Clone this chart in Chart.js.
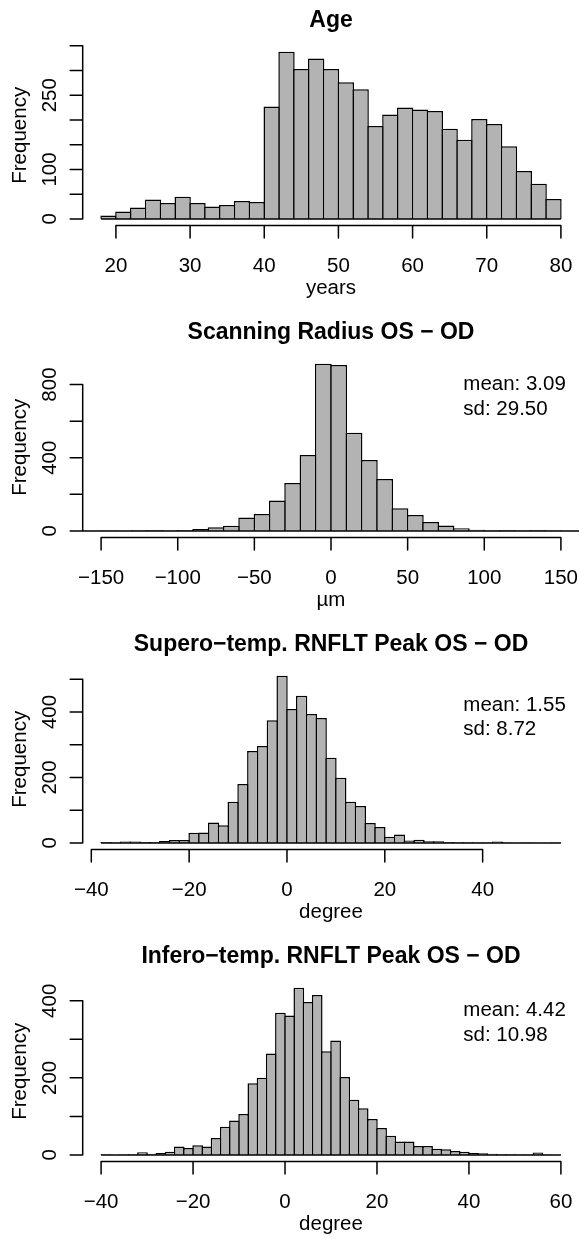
<!DOCTYPE html>
<html lang="en">
  <head>
    <meta charset="UTF-8" />
    <title>OS - OD histograms</title>
    <style>
      html, body { margin: 0; padding: 0; background: #fff; }
      body { width: 579px; height: 1239px; overflow: hidden; position: relative; }
      canvas { position: absolute; left: 0; }
    </style>
  </head>
  <body>
    <canvas id="age" width="600" height="312" style="top:0px"></canvas>
    <canvas id="radius" width="600" height="312" style="top:312px"></canvas>
    <canvas id="supero" width="600" height="312" style="top:624px"></canvas>
    <canvas id="infero" width="600" height="312" style="top:936px"></canvas>

    <script src="https://cdn.jsdelivr.net/npm/chart.js@4"></script>
    <script>
      // ---- data (counts per bin) ----
      // Age, 2-year bins from 18 to 80
      const ageStart = 18, ageBin = 2;
      const ageCounts = [7, 15, 23, 39, 32, 45, 32, 25, 28, 36, 34, 227, 338, 303, 324, 303,
        276, 262, 188, 211, 225, 221, 218, 182, 160, 202, 192, 147, 97, 71, 40];
      const ageXTicks = [20, 30, 40, 50, 60, 70, 80];
      const ageYTicks = [0, 50, 100, 150, 200, 250, 300, 350];
      const ageYLabels = [0, 100, 250];

      // Scanning radius OS - OD, 10 um bins from -170 to 170
      const radStart = -170, radBin = 10;
      const radCounts = [1, 1, 2, 1, 4, 3, 2, 5, 11, 20, 28, 73, 92, 166, 262, 415, 914,
        907, 536, 387, 284, 124, 87, 49, 29, 15, 7, 4, 3, 2, 3, 2, 1, 1];
      const radXTicks = [-150, -100, -50, 0, 50, 100, 150];
      const radYTicks = [0, 200, 400, 600, 800];
      const radYLabels = [0, 400, 800];
      const radStats = ["mean: 3.09", "sd: 29.50"];

      // Supero-temporal RNFLT peak OS - OD, 2 degree bins from -38 to 56
      const supStart = -38, supBin = 2;
      const supCounts = [3, 1, 4, 4, 3, 3, 6, 9, 9, 31, 32, 62, 54, 126, 180, 281, 296, 375,
        511, 409, 450, 394, 382, 260, 199, 126, 113, 61, 49, 19, 26, 7, 10, 5, 5, 3, 2, 2, 1,
        1, 4, 1, 0, 1, 0, 0, 1];
      const supXTicks = [-40, -20, 0, 20, 40];
      const supYTicks = [0, 100, 200, 300, 400, 500];
      const supYLabels = [0, 200, 400];
      const supStats = ["mean: 1.55", "sd: 8.72"];

      // Infero-temporal RNFLT peak OS - OD, 2 degree bins from -40 to 60
      const infStart = -40, infBin = 2;
      const infCounts = [2, 0, 1, 2, 7, 3, 5, 8, 22, 18, 25, 22, 44, 73, 89, 106, 186, 200,
        263, 369, 362, 434, 397, 415, 269, 297, 202, 143, 121, 93, 70, 50, 35, 35, 23, 23, 16,
        15, 10, 8, 5, 4, 3, 2, 2, 1, 1, 6, 1, 0];
      const infXTicks = [-40, -20, 0, 20, 40, 60];
      const infYTicks = [0, 100, 200, 300, 400];
      const infYLabels = [0, 200, 400];
      const infStats = ["mean: 4.42", "sd: 10.98"];

      // ---- look ----
      const LW = 1.5;
      const TICK = 12.5;
      const FILL = "#b3b3b3";
      const FONT = '20.5px "Liberation Sans", Arial, sans-serif';
      const TITLE_FONT = 'bold 23px "Liberation Sans", Arial, sans-serif';
      const AREA = { left: 82.7, right: 579.3, top: 45, bottom: 225.6 };
      const CANVAS_W = 600, CANVAS_H = 312;

      const fmt = (v) => (v < 0 ? "\u2212" + Math.abs(v) : String(v));

      // R-like axes, titles and the zero line under the bars
      const rStyle = {
        id: "rStyle",
        afterDatasetsDraw(chart, args, o) {
          const { ctx, chartArea: a, scales } = chart;
          ctx.save();
          ctx.beginPath();
          ctx.rect(a.left, a.top, a.right - a.left, a.bottom - a.top);
          ctx.clip();
          ctx.strokeStyle = "#000";
          ctx.lineWidth = LW;
          ctx.beginPath();
          const y0 = scales.y.getPixelForValue(0);
          ctx.moveTo(scales.x.getPixelForValue(o.from), y0);
          ctx.lineTo(scales.x.getPixelForValue(o.to), y0);
          ctx.stroke();
          ctx.restore();
        },
        afterDraw(chart, args, o) {
          const { ctx, chartArea: a, scales } = chart;
          const x = scales.x, y = scales.y;
          ctx.save();
          ctx.strokeStyle = "#000";
          ctx.fillStyle = "#000";
          ctx.lineWidth = LW;
          ctx.lineCap = "round";

          // x axis
          const xt = o.xTicks;
          ctx.beginPath();
          ctx.moveTo(x.getPixelForValue(xt[0]), a.bottom);
          ctx.lineTo(x.getPixelForValue(xt[xt.length - 1]), a.bottom);
          xt.forEach((v) => {
            const px = x.getPixelForValue(v);
            ctx.moveTo(px, a.bottom);
            ctx.lineTo(px, a.bottom + TICK);
          });
          // y axis
          const yt = o.yTicks;
          ctx.moveTo(a.left, y.getPixelForValue(yt[0]));
          ctx.lineTo(a.left, y.getPixelForValue(yt[yt.length - 1]));
          yt.forEach((v) => {
            const py = y.getPixelForValue(v);
            ctx.moveTo(a.left, py);
            ctx.lineTo(a.left - TICK, py);
          });
          ctx.stroke();

          ctx.font = FONT;
          ctx.textAlign = "center";
          ctx.textBaseline = "alphabetic";
          xt.forEach((v) => ctx.fillText(fmt(v), x.getPixelForValue(v), a.bottom + 46));
          ctx.fillText(o.xTitle, (a.left + a.right) / 2, 294);

          o.yLabels.forEach((v) => {
            ctx.save();
            ctx.translate(55.5, y.getPixelForValue(v));
            ctx.rotate(-Math.PI / 2);
            ctx.fillText(fmt(v), 0, 0);
            ctx.restore();
          });
          ctx.save();
          ctx.translate(26, (a.top + a.bottom) / 2);
          ctx.rotate(-Math.PI / 2);
          ctx.fillText("Frequency", 0, 0);
          ctx.restore();

          ctx.font = TITLE_FONT;
          ctx.fillText(o.title, (a.left + a.right) / 2, 26.5);

          if (o.stats) {
            ctx.font = FONT;
            ctx.textAlign = "left";
            o.stats.forEach((s, i) => ctx.fillText(s, 463.3, o.statsY[i]));
          }
          ctx.restore();
        },
      };

      function histogram(id, p) {
        const n = p.counts.length;
        const lo = p.start, hi = p.start + n * p.bin;
        const range = p.xlim || [lo, hi];
        const pad = 0.04 * (range[1] - range[0]);
        const xmin = range[0] - pad, xmax = range[1] + pad;
        const top = Math.max(...p.counts);
        const binPx = (p.bin * (AREA.right - AREA.left)) / (xmax - xmin);

        new Chart(document.getElementById(id), {
          type: "bar",
          data: {
            datasets: [
              {
                data: p.counts.map((c, i) => ({ x: p.start + p.bin * (i + 0.5), y: c })),
                backgroundColor: FILL,
                borderColor: "#000",
                borderWidth: LW,
                borderSkipped: "start",
                inflateAmount: 0,
                categoryPercentage: 1,
                barPercentage: 1 + LW / binPx,
              },
            ],
          },
          options: {
            responsive: false,
            animation: false,
            events: [],
            layout: {
              padding: {
                left: AREA.left,
                right: CANVAS_W - AREA.right,
                top: AREA.top,
                bottom: CANVAS_H - AREA.bottom,
              },
            },
            scales: {
              x: { type: "linear", min: xmin, max: xmax, offset: false, display: false },
              y: { min: -0.04 * top, max: 1.04 * top, offset: false, display: false },
            },
            plugins: {
              legend: { display: false },
              tooltip: { enabled: false },
              rStyle: {
                from: lo,
                to: hi,
                xTicks: p.xTicks,
                yTicks: p.yTicks,
                yLabels: p.yLabels,
                xTitle: p.xTitle,
                title: p.title,
                stats: p.stats,
                statsY: p.statsY,
              },
            },
          },
          plugins: [rStyle],
        });
      }

      histogram("age", {
        title: "Age", xTitle: "years",
        start: ageStart, bin: ageBin, counts: ageCounts,
        xTicks: ageXTicks, yTicks: ageYTicks, yLabels: ageYLabels,
      });
      histogram("radius", {
        title: "Scanning Radius OS \u2212 OD", xTitle: "\u00b5m",
        start: radStart, bin: radBin, counts: radCounts, xlim: [-150, 150],
        xTicks: radXTicks, yTicks: radYTicks, yLabels: radYLabels,
        stats: radStats, statsY: [77.5, 102.5],
      });
      histogram("supero", {
        title: "Supero\u2212temp. RNFLT Peak OS \u2212 OD", xTitle: "degree",
        start: supStart, bin: supBin, counts: supCounts,
        xTicks: supXTicks, yTicks: supYTicks, yLabels: supYLabels,
        stats: supStats, statsY: [86.5, 110.5],
      });
      histogram("infero", {
        title: "Infero\u2212temp. RNFLT Peak OS \u2212 OD", xTitle: "degree",
        start: infStart, bin: infBin, counts: infCounts,
        xTicks: infXTicks, yTicks: infYTicks, yLabels: infYLabels,
        stats: infStats, statsY: [80, 104.5],
      });
    </script>
  </body>
</html>
